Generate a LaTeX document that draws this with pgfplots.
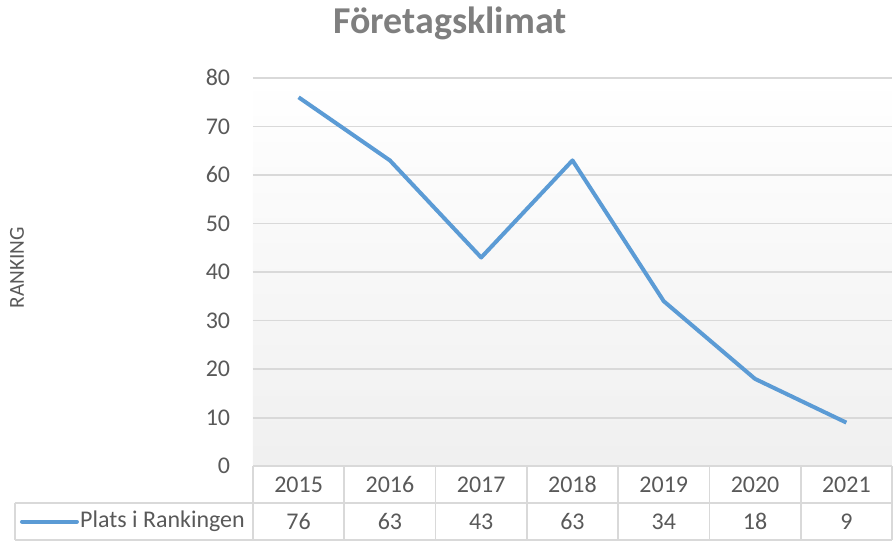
\documentclass[border=0pt]{standalone}
\usepackage{fontspec}
\setmainfont{Carlito}
\usepackage{pgfplots}
\usepackage{pgfplotstable}
\pgfplotsset{compat=1.18}
\definecolor{linecol}{HTML}{5B9BD5}
\definecolor{gridcol}{HTML}{D9D9D9}
\definecolor{txtcol}{HTML}{595959}
\definecolor{titlecol}{HTML}{7F7F7F}

\pgfplotstableread{
idx year rank
0 2015 76
1 2016 63
2 2017 43
3 2018 63
4 2019 34
5 2020 18
6 2021 9
}\ranking

\begin{document}
\begin{tikzpicture}
\begin{axis}[
  scale only axis, width=480pt, height=291.75pt,
  xmin=-0.5, xmax=6.5, ymin=0, ymax=80,
  clip=false,
  axis line style={draw=none},
  major tick length=0pt,
  ytick={0,10,...,80},
  ymajorgrids, grid style={gridcol, line width=1.2pt},
  xtick={0,...,6},
  xticklabels={2015,2016,2017,2018,2019,2020,2021},
  tick label style={font=\fontsize{18}{20}\selectfont, text=txtcol},
  /pgf/number format/assume math mode=true,
  yticklabel style={anchor=east, inner sep=0pt, xshift=-17pt},
  xticklabel style={anchor=center, inner sep=0pt, yshift=-13.9pt},
  axis background/.style={shade, top color=white, bottom color=black!6},
]
% the series
\addplot[linecol, line width=3pt, line join=round] table[x=idx, y=rank] {\ranking};

% data table: value row
\addplot[draw=none, nodes near coords, point meta=explicit,
  nodes near coords style={anchor=center, inner sep=0pt, font=\fontsize{18}{20}\selectfont, text=txtcol}]
  table[x=idx, y expr=-11.41, meta=rank] {\ranking};

% table borders
\draw[gridcol, line width=1.2pt] (axis cs:-3.107,-7.61) -- (axis cs:6.5,-7.61);
\draw[gridcol, line width=1.2pt] (axis cs:-3.107,-15.22) -- (axis cs:6.5,-15.22);
\draw[gridcol, line width=1.2pt] (axis cs:-3.107,-7.61) -- (axis cs:-3.107,-15.22);
\pgfplotsinvokeforeach{-0.5,0.5,1.5,2.5,3.5,4.5,5.5,6.5}{
  \draw[gridcol, line width=1.2pt] (axis cs:#1,0) -- (axis cs:#1,-15.22);
}

% legend key in the table
\draw[linecol, line width=3pt, line cap=round] (axis cs:-3.03,-11.41) -- (axis cs:-2.428,-11.41);
\node[anchor=west, inner sep=0pt, font=\fontsize{18}{20}\selectfont, text=txtcol]
  at (axis cs:-2.395,-11.41) {Plats i Rankingen};

% title and axis label
\node[font=\bfseries\fontsize{28.5}{32}\selectfont, text=titlecol] at (axis cs:1.658,91.3) {Företagsklimat};
\node[rotate=90, font=\fontsize{16}{18}\selectfont, text=txtcol] at (axis cs:-3.085,40.9) {RANKING};

% canvas
\path (axis cs:-3.271,96.04) rectangle (axis cs:6.511,-15.42);
\end{axis}
\end{tikzpicture}
\end{document}
